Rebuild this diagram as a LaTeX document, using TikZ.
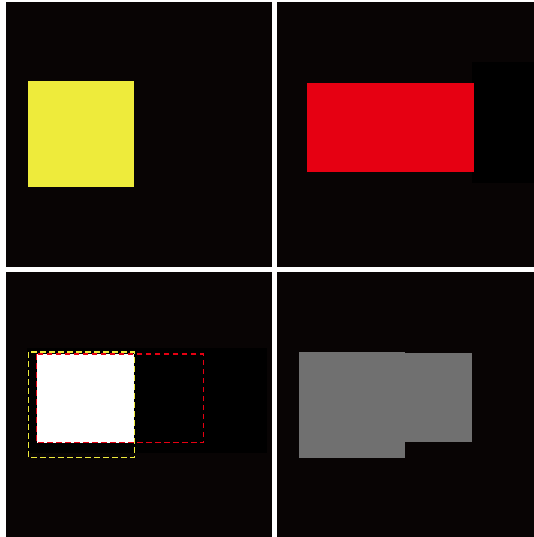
\documentclass[tikz,border=0pt]{standalone}
\usepackage{xcolor}
\usepackage{tikz}
\definecolor{panelbg}{RGB}{8,4,4}
\definecolor{boxyellow}{RGB}{238,235,59}
\definecolor{boxred}{RGB}{230,0,18}
\definecolor{boxgray}{RGB}{112,112,112}

\begin{document}
\begin{tikzpicture}[
  x=1pt, y=-1pt,
  panel/.style={fill=panelbg},
  darkbox/.style={fill=black},
  graybox/.style={fill=boxgray},
  outline/.style={line width=1.3pt,dash pattern=on 5.5pt off 3.5pt}
]
  % white sheet behind the four panels
  \fill[white] (0,0) rectangle (534,537);
  \useasboundingbox (0,0) rectangle (534,537);

  % Panels
  \fill[panel] (6,2)     rectangle (271.5,267);
  \fill[panel] (276.5,2) rectangle (534,267);
  \fill[panel] (6,272)   rectangle (271.5,537);
  \fill[panel] (276.5,272) rectangle (534,537);

  % Top left: yellow square
  \fill[boxyellow] (28,81) rectangle (134.3,187.3);

  % Top right: red box and dark strip
  \fill[darkbox] (471.7,62.3) rectangle (534,182.7);
  \fill[boxred]  (307.3,83.3) rectangle (474,171.7);

  % Bottom left: overlap with dashed outlines
  \fill[darkbox] (26.7,348.3) rectangle (266.7,453.3);
  \fill[white]   (36.7,354) rectangle (134.3,442.7);
  \draw[outline,boxred]    (36.7,354) rectangle (203.3,442.7);
  \draw[outline,boxyellow] (28.3,352) rectangle (134.3,457.3);

  % Bottom right: gray result
  \fill[graybox] (404,353.3) rectangle (472,441.7);
  \fill[graybox] (299,352) rectangle (404.7,457.7);
\end{tikzpicture}
\end{document}
